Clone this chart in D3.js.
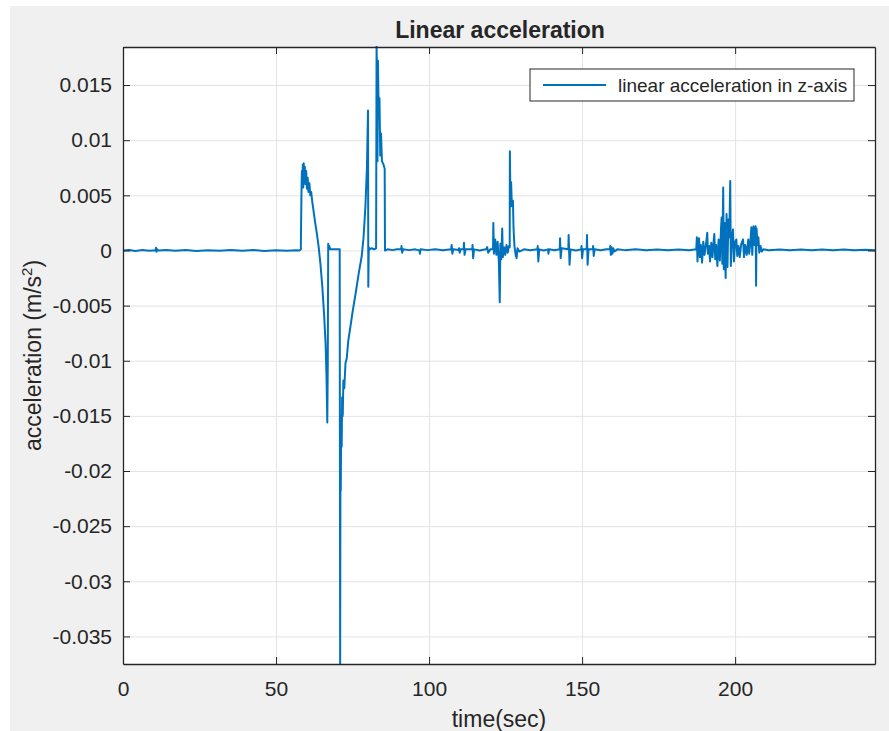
<!DOCTYPE html>
<html>
<head>
<meta charset="utf-8">
<script src="https://cdn.jsdelivr.net/npm/d3@7"></script>
<style>
  html, body { margin: 0; padding: 0; background: #ffffff; }
  svg { display: block; }
  text { font-family: "Liberation Sans", Arial, Helvetica, sans-serif; fill: #262626; }
</style>
</head>
<body>
<svg id="chart" width="889" height="731"></svg>
<script>
// Chart text
const chartTitle = "Linear acceleration";
const xLabel = "time(sec)";
const yLabelMain = "acceleration (m/s";
const seriesName = "linear acceleration in z-axis";

// Axis limits and ticks
const xDomain = [0, 245.7];
const yDomain = [-0.0375, 0.01845];
const xTicks = [0, 50, 100, 150, 200];
const yTicks = [0.015, 0.01, 0.005, 0, -0.005, -0.01, -0.015, -0.02, -0.025, -0.03, -0.035];
const yTickLabels = ["0.015", "0.01", "0.005", "0", "-0.005", "-0.01", "-0.015", "-0.02", "-0.025", "-0.03", "-0.035"];

// Samples: [time (s), linear acceleration along z (m/s^2)]
const accelZ = [
  [0, 0], [2.1, 0.00005], [4.0, -0.00004], [6.3, 0.00004], [8.5, -0.00003], [10.6, 0.00002],
  [10.8, 0.00025], [10.95, -0.00012], [11.2, 0.0001], [11.5, 0], [14.2, 0.00004], [17.0, -0.00003],
  [20.5, 0.00004], [24.0, -0.00004], [27.8, 0.00003], [31.5, -0.00003], [35.2, 0.00004], [39.0, -0.00003],
  [42.6, 0.00004], [46.1, -0.00004], [50.0, 0.00003], [53.4, -0.00003], [56.5, 0.00002], [57.6, 0],
  [58.1, 0.0001], [58.3, 0.0050], [58.45, 0.0072], [58.6, 0.0060], [58.75, 0.0078], [58.9, 0.0057],
  [59.05, 0.0079], [59.2, 0.0062], [59.4, 0.0076], [59.6, 0.0060], [59.85, 0.0072], [60.1, 0.0056],
  [60.35, 0.0066], [60.6, 0.0053], [60.9, 0.0061], [61.2, 0.0050], [61.5, 0.0053], [61.8, 0.0045],
  [62.3, 0.0035], [62.8, 0.0025], [63.3, 0.0016], [63.9, 0.0004], [64.5, -0.0012], [65.1, -0.0032],
  [65.7, -0.0058], [66.2, -0.0085], [66.5, -0.0115], [66.75, -0.0156], [66.9, -0.0105], [67.05, 0.0006],
  [67.2, 0.0001], [67.4, 0.0004], [67.7, 0.0001], [68.5, 0.0001], [69.5, 0.0001], [70.8, 0.0001],
  [70.95, -0.0375], [71.05, -0.0180], [71.15, -0.0218], [71.3, -0.0150], [71.45, -0.0178], [71.6, -0.0133],
  [71.8, -0.0150], [72.0, -0.0118], [72.3, -0.0125], [72.7, -0.0102], [73.1, -0.0098], [73.6, -0.0082],
  [74.2, -0.0071], [75.0, -0.0056], [76.0, -0.0039], [77.0, -0.0021], [78.0, -0.0005], [78.6, 0.0012],
  [79.2, 0.0040], [79.7, 0.0075], [80.05, 0.0127], [80.15, -0.0033], [80.3, 0.0003], [80.6, 0.0001],
  [81.3, 0.0002], [82.0, 0.0001], [82.7, 0.0002], [82.85, 0.0185], [83.0, 0.0160], [83.15, 0.0081],
  [83.3, 0.0172], [83.55, 0.0120], [83.8, 0.0138], [84.05, 0.0086], [84.3, 0.0106], [84.6, 0.0081],
  [85.1, 0.0078], [85.5, 0.0074], [85.6, 0.0000], [86.5, 0.0001], [88.0, 0.00003], [89.5, 0.0001],
  [90.9, 0.0001], [91.0, 0.0004], [91.2, -0.0002], [91.5, 0.0001], [93.5, 0.00003], [95.5, 0.0001],
  [96.9, 0.0000], [97.0, -0.0003], [97.2, 0.0001], [99.5, 0.00003], [102.0, 0.0001], [104.5, 0.00002],
  [107.2, 0.0001], [107.4, 0.0005], [107.6, -0.0003], [107.9, 0.0001], [109.7, 0.00005], [109.8, 0.0002],
  [110.0, -0.0002], [110.3, 0.0001], [111.3, 0.0001], [111.4, 0.0007], [111.6, -0.0004], [111.9, 0.0001],
  [114.1, 0.0001], [114.2, 0.0005], [114.4, -0.0007], [114.7, 0.0001], [116.5, 0.0000], [118.6, 0.0001],
  [119.0, 0.0003], [119.3, -0.0002], [120.0, 0.0001], [120.9, 0.0001], [121.0, 0.0025], [121.2, -0.0003],
  [121.6, 0.0010], [122.0, -0.0004], [122.4, 0.0008], [122.8, -0.0010], [123.1, -0.0047], [123.3, 0.0006],
  [123.6, -0.0008], [123.9, 0.0020], [124.1, -0.0006], [124.5, 0.0003], [124.9, -0.0004], [125.3, 0.0005],
  [125.7, -0.0002], [126.1, 0.0004], [126.35, 0.0003], [126.4, 0.0090], [126.6, 0.0040], [126.8, 0.0062],
  [127.0, 0.0045], [127.2, 0.0040], [127.4, 0.0045], [127.6, 0.0020], [127.9, 0.0004], [128.3, -0.0004],
  [128.6, -0.0007], [128.9, 0.0002], [129.5, -0.0001], [131.0, 0.0001], [133.0, 0.00002], [135.4, 0.0001],
  [135.5, 0.0004], [135.7, -0.0010], [136.0, 0.0001], [137.5, 0.0000], [138.9, 0.0001], [139.0, -0.0003],
  [139.2, 0.0001], [141.0, 0.00002], [142.7, 0.0001], [142.8, 0.0011], [143.0, -0.0007], [143.3, 0.0002],
  [145.5, 0.0001], [145.6, 0.0014], [145.9, -0.0013], [146.2, 0.0001], [148.0, 0.0000], [149.7, 0.0001],
  [149.8, 0.0004], [150.0, -0.0007], [150.3, 0.0001], [151.5, 0.0001], [151.6, 0.0014], [151.8, -0.0013],
  [152.1, 0.0001], [153.5, 0.0001], [153.6, 0.0004], [153.8, -0.0005], [154.1, 0.0001], [156.0, 0.00002],
  [158.0, 0.0001], [159.1, 0.0001], [159.2, 0.0004], [159.4, -0.0004], [159.6, 0.0003], [159.9, -0.0003],
  [160.2, 0.0002], [160.6, -0.0001], [161.5, 0.0001], [164.0, 0.00003], [167.5, 0.0001], [171.0, 0.00002],
  [174.5, 0.00008], [178.0, 0.00002], [181.5, 0.00008], [185.0, 0.00002], [187.3, 0.0001], [187.5, 0.0012],
  [187.7, -0.0010], [188.0, 0.0008], [188.2, 0.0011], [188.5, -0.0006], [188.8, 0.0005], [189.2, -0.0011],
  [189.6, 0.0008], [190.0, -0.0004], [190.5, 0.0006], [190.9, 0.0016], [191.1, -0.0003], [191.5, 0.0004],
  [191.8, -0.0010], [192.2, 0.0007], [192.6, -0.0006], [193.0, 0.0009], [193.2, 0.0015], [193.5, -0.0008],
  [193.8, 0.0005], [194.2, -0.0014], [194.6, 0.0010], [195.0, -0.0009], [195.4, 0.0020], [195.6, 0.0030],
  [195.8, -0.0012], [196.1, 0.0057], [196.3, -0.0017], [196.6, 0.0025], [196.9, -0.0025], [197.2, 0.0033],
  [197.5, -0.0015], [197.8, 0.0028], [198.1, 0.0012], [198.4, 0.0063], [198.6, -0.0014], [198.9, 0.0010],
  [199.3, 0.0019], [199.6, -0.0010], [200.0, 0.0008], [200.4, 0.0010], [200.7, -0.0005], [201.1, 0.0004],
  [201.5, -0.0006], [202.0, 0.0006], [202.6, 0.0010], [202.9, -0.0006], [203.3, 0.0005], [203.8, -0.0004],
  [204.3, 0.0010], [204.6, -0.0003], [205.0, 0.0008], [205.3, 0.0021], [205.6, -0.0004], [206.0, 0.0022],
  [206.3, 0.0005], [206.7, 0.0022], [206.85, -0.0032], [207.0, 0.0020], [207.3, 0.0005], [207.6, 0.0012],
  [207.9, -0.0002], [208.3, 0.0004], [208.7, -0.0001], [209.2, 0.0001], [211.0, 0.00002], [214.5, 0.00008],
  [218.0, 0.00002], [221.5, 0.00008], [225.0, 0.00002], [228.5, 0.00008], [232.0, 0.00002], [235.5, 0.00008],
  [239.0, 0.00002], [242.5, 0.00006], [245.7, 0.00002]
];

const lineColor = "#0072BD";
const axisColor = "#262626";
const gridColor = "#e3e3e3";

const svg = d3.select("#chart");
const W = 889, H = 731;
const plot = { left: 123, right: 875, top: 47, bottom: 664 };

// figure background
svg.append("rect").attr("x", 0).attr("y", 0).attr("width", W).attr("height", H).attr("fill", "#ffffff");
svg.append("rect").attr("x", 10).attr("y", 6).attr("width", W - 10).attr("height", H - 6).attr("fill", "#f0f0f0");

const x = d3.scaleLinear().domain(xDomain).range([plot.left, plot.right]);
const y = d3.scaleLinear().domain(yDomain).range([plot.bottom, plot.top]);
const pw = plot.right - plot.left, ph = plot.bottom - plot.top;

// axes background
svg.append("rect").attr("x", plot.left).attr("y", plot.top).attr("width", pw).attr("height", ph).attr("fill", "#ffffff");

// grid
const gridX = svg.append("g").attr("transform", `translate(0,${plot.bottom})`)
  .call(d3.axisBottom(x).tickValues(xTicks).tickSize(-ph).tickFormat(""));
const gridY = svg.append("g").attr("transform", `translate(${plot.left},0)`)
  .call(d3.axisLeft(y).tickValues(yTicks).tickSize(-pw).tickFormat(""));
[gridX, gridY].forEach(g => {
  g.select(".domain").remove();
  g.selectAll(".tick line").attr("stroke", gridColor).attr("stroke-width", 1);
});

// data line
svg.append("clipPath").attr("id", "plotClip").append("rect")
  .attr("x", plot.left).attr("y", plot.top - 1).attr("width", pw).attr("height", ph + 2);
const line = d3.line().x(d => x(d[0])).y(d => y(d[1]));
svg.append("path").datum(accelZ)
  .attr("clip-path", "url(#plotClip)")
  .attr("fill", "none").attr("stroke", lineColor).attr("stroke-width", 2)
  .attr("stroke-linejoin", "round").attr("d", line);

// axes with inward ticks on all four sides
const tickLen = 7;
const fmtY = d => yTickLabels[yTicks.indexOf(d)];
const axB = svg.append("g").attr("transform", `translate(0,${plot.bottom})`)
  .call(d3.axisBottom(x).tickValues(xTicks).tickSizeInner(-tickLen).tickSizeOuter(0).tickPadding(17).tickFormat(d3.format("d")));
const axT = svg.append("g").attr("transform", `translate(0,${plot.top})`)
  .call(d3.axisTop(x).tickValues(xTicks).tickSizeInner(-tickLen).tickSizeOuter(0).tickFormat(""));
const axL = svg.append("g").attr("transform", `translate(${plot.left},0)`)
  .call(d3.axisLeft(y).tickValues(yTicks).tickSizeInner(-tickLen).tickSizeOuter(0).tickPadding(11).tickFormat(fmtY));
const axR = svg.append("g").attr("transform", `translate(${plot.right},0)`)
  .call(d3.axisRight(y).tickValues(yTicks).tickSizeInner(-tickLen).tickSizeOuter(0).tickFormat(""));
[axB, axT, axL, axR].forEach(g => {
  g.select(".domain").attr("stroke", axisColor).attr("stroke-width", 1.3);
  g.selectAll(".tick line").attr("stroke", axisColor).attr("stroke-width", 1);
  g.selectAll(".tick text").attr("fill", axisColor)
    .style("font-family", '"Liberation Sans", Arial, sans-serif').style("font-size", "21px");
});

// title
svg.append("text").attr("x", (plot.left + plot.right) / 2 + 1).attr("y", 38)
  .attr("text-anchor", "middle").style("font-size", "23px").style("font-weight", "bold")
  .attr("fill", "#000").text(chartTitle);

// x label
svg.append("text").attr("x", (plot.left + plot.right) / 2).attr("y", 727)
  .attr("text-anchor", "middle").style("font-size", "23px").text(xLabel);

// y label with superscript
const yl = svg.append("text")
  .attr("transform", `translate(41,${(plot.top + plot.bottom) / 2}) rotate(-90)`)
  .attr("text-anchor", "middle").style("font-size", "23px");
yl.append("tspan").text(yLabelMain);
yl.append("tspan").attr("dy", -9).style("font-size", "15px").text("2");
yl.append("tspan").attr("dy", 9).text(")");

// legend
const lg = svg.append("g");
lg.append("rect").attr("x", 530).attr("y", 69).attr("width", 324).attr("height", 32)
  .attr("fill", "#ffffff").attr("stroke", axisColor).attr("stroke-width", 1);
lg.append("line").attr("x1", 543).attr("x2", 606).attr("y1", 85).attr("y2", 85)
  .attr("stroke", lineColor).attr("stroke-width", 2);
lg.append("text").attr("x", 618).attr("y", 92).style("font-size", "19px").text(seriesName);
</script>
</body>
</html>
